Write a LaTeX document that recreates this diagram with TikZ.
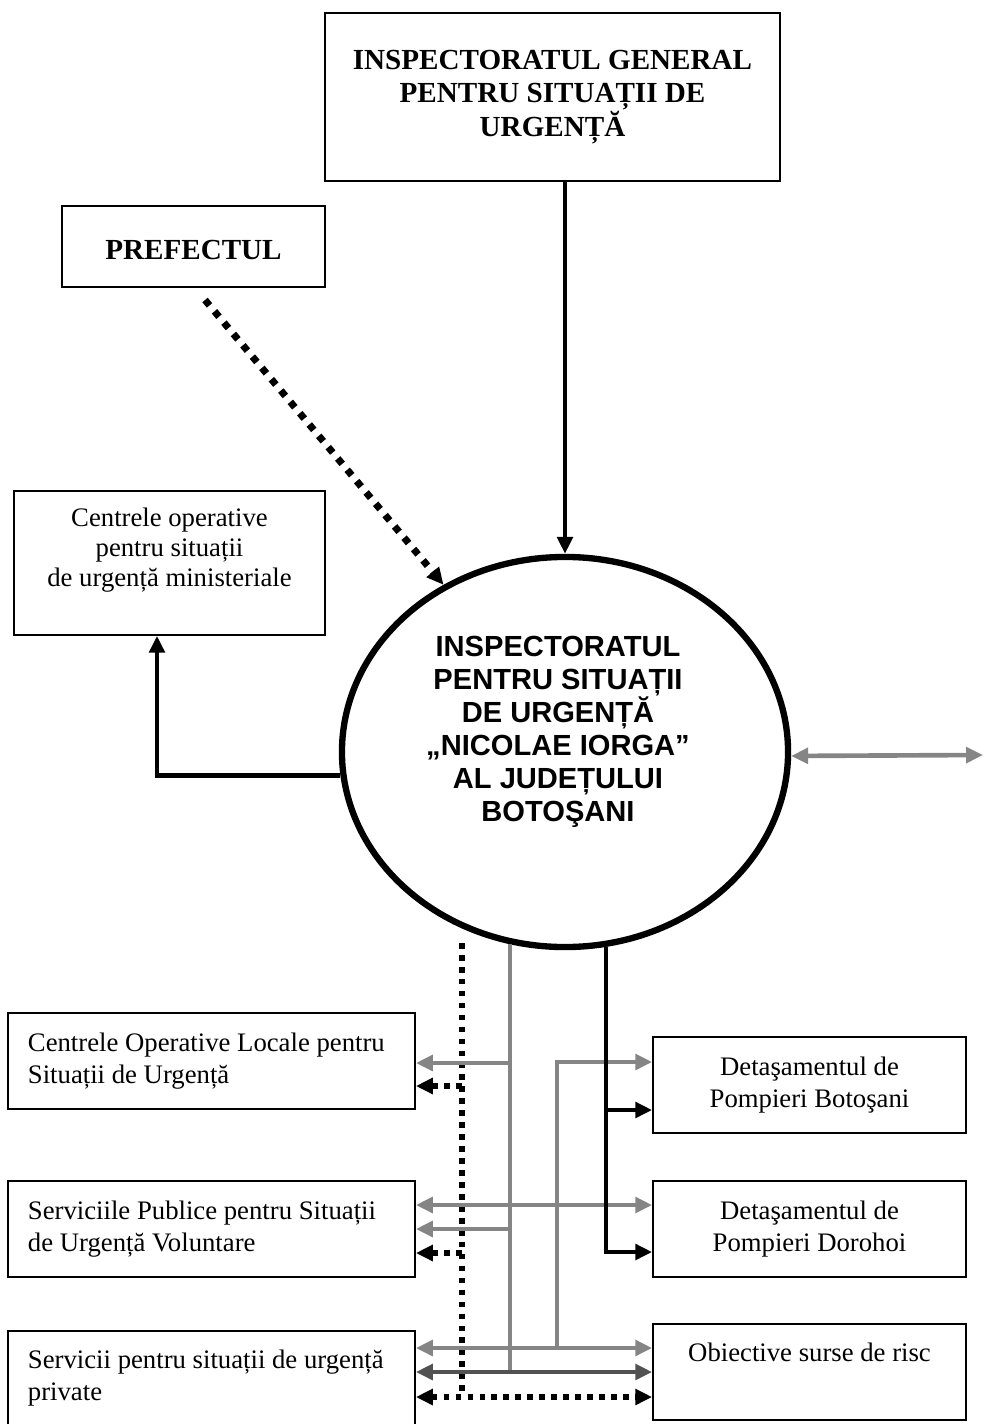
\documentclass[tikz,border=0pt]{standalone}
\usepackage{fontspec}
\setmainfont{Liberation Serif}
\newfontfamily\arialfont{Liberation Sans}
\usetikzlibrary{positioning,shapes.geometric,arrows.meta}
\definecolor{linegray}{gray}{0.52}
\definecolor{darkgray}{gray}{0.32}

\begin{document}
\begin{tikzpicture}[x=0.025cm,y=-0.025cm,>={Triangle[length=12pt,width=11pt]},
    box/.style={draw,line width=1.2pt,inner sep=0pt},
    bigtxt/.style={font=\bfseries\fontsize{20.7}{24.1}\selectfont,align=center},
    smalltxt/.style={font=\fontsize{19}{22.7}\selectfont},
    blk/.style={line width=3pt},
    gry/.style={line width=3.3pt,draw=linegray},
    dgry/.style={line width=3.3pt,draw=darkgray},
    dots/.style={line width=4pt,dash pattern=on 4pt off 4.5pt}]
    \useasboundingbox (0,0) rectangle (985,1424);
    % top part
    \node[box,bigtxt,minimum width=11.375cm,minimum height=4.2cm] (igsu) at (552.5,97) {INSPECTORATUL GENERAL\\PENTRU SITUAȚII DE\\URGENȚĂ};
    \node[box,minimum width=6.575cm,minimum height=2.025cm] (pref) at (193.5,246.5) {};
    \node[bigtxt] (preftxt) at (193.5,250) {PREFECTUL};
    \node[box,minimum width=7.775cm,minimum height=3.6cm] (cent) at (169.5,563) {};
    \node[font=\fontsize{19}{21.3}\selectfont,align=center] (centtxt) at (169.5,550) {Centrele operative\\pentru situații\\de urgență ministeriale};
    \node[draw,ellipse,line width=4.5pt,inner sep=0pt,minimum width=11.15cm,minimum height=9.75cm] (isu) at (565,752) {};
    \node[font=\arialfont\bfseries\fontsize{20.7}{23.4}\selectfont,align=center] (isutxt) at (558,732) {INSPECTORATUL\\PENTRU SITUAȚII\\DE URGENȚĂ\\„NICOLAE IORGA”\\AL JUDEȚULUI\\BOTOŞANI};
    \coordinate (pdot) at (205,300);
    \coordinate (ext) at (983,755);
    \draw[blk,->] (igsu.south -| isu.north) -- (isu.north);
    \draw[dots,line width=5pt,dash pattern=on 5pt off 5.5pt,->] (pdot) -- (isu.126);
    \draw[blk,->] (isu.186) -| ([xshift=-0.3125cm]cent.south);
    \draw[gry,<->] (isu.-1) -- (ext);
    % bottom boxes
    \node[box,smalltxt,align=flush left,text width=9.175cm,minimum width=10.175cm,minimum height=2.4cm] (col) at (211.5,1061) {Centrele Operative Locale pentru\\Situații de Urgență};
    \node[box,smalltxt,align=flush left,text width=9.175cm,minimum width=10.175cm,minimum height=2.4cm] (spv) at (211.5,1229) {Serviciile Publice pentru Situații\\de Urgență Voluntare};
    \node[box,smalltxt,align=flush left,text width=9.175cm,minimum width=10.175cm,minimum height=2.375cm] (spr) at (211.5,1378.5) {Servicii pentru situații de urgență\\private};
    \node[box,smalltxt,align=flush center,text width=7cm,minimum width=7.825cm,minimum height=2.4cm] (dpb) at (809.5,1085) {Detaşamentul de\\Pompieri Botoşani};
    \node[box,smalltxt,align=flush center,text width=7cm,minimum width=7.825cm,minimum height=2.4cm] (dpd) at (809.5,1229) {Detaşamentul de\\Pompieri Dorohoi};
    \node[box,minimum width=7.825cm,minimum height=2.4cm] (obs) at (809.5,1372) {};
    \node[smalltxt] (obstxt) at (809.5,1352) {Obiective surse de risc};
    % bus lines
    \coordinate (dtop) at (462,943);
    \coordinate (d1) at (462,1086);
    \coordinate (d2) at (462,1253);
    \coordinate (d3) at (462,1397);
    \coordinate (gtop) at (510,944);
    \coordinate (g1) at (510,1063);
    \coordinate (g2) at (510,1229);
    \coordinate (g3) at (510,1372);
    \coordinate (btop) at (606,947);
    \coordinate (b1) at (606,1110);
    \coordinate (b2) at (606,1252);
    \coordinate (h1) at (557,1062);
    \coordinate (h3) at (557,1348);
    \coordinate (r1) at (530,1205);
    \draw[dots] (dtop) -- (d3);
    \draw[dots,->] (d1) -- (col.east |- d1);
    \draw[dots,->] (d2) -- (spv.east |- d2);
    \draw[dots,<->] (spr.east |- d3) -- (obs.west |- d3);
    \draw[gry] (gtop) -- (g3);
    \draw[gry,->] (g1) -- (col.east |- g1);
    \draw[gry,->] (g2) -- (spv.east |- g2);
    \draw[gry,->] (h3) -- (h1) -- (dpb.west |- h1);
    \draw[gry,<->] (spv.east |- r1) -- (dpd.west |- r1);
    \draw[gry,<->] (spr.east |- h3) -- (obs.west |- h3);
    \draw[dgry,<->] (spr.east |- g3) -- (obs.west |- g3);
    \draw[blk,->] (b1) -- (dpb.west |- b1);
    \draw[blk,->] (btop) |- (dpd.west |- b2);
\end{tikzpicture}
\end{document}
